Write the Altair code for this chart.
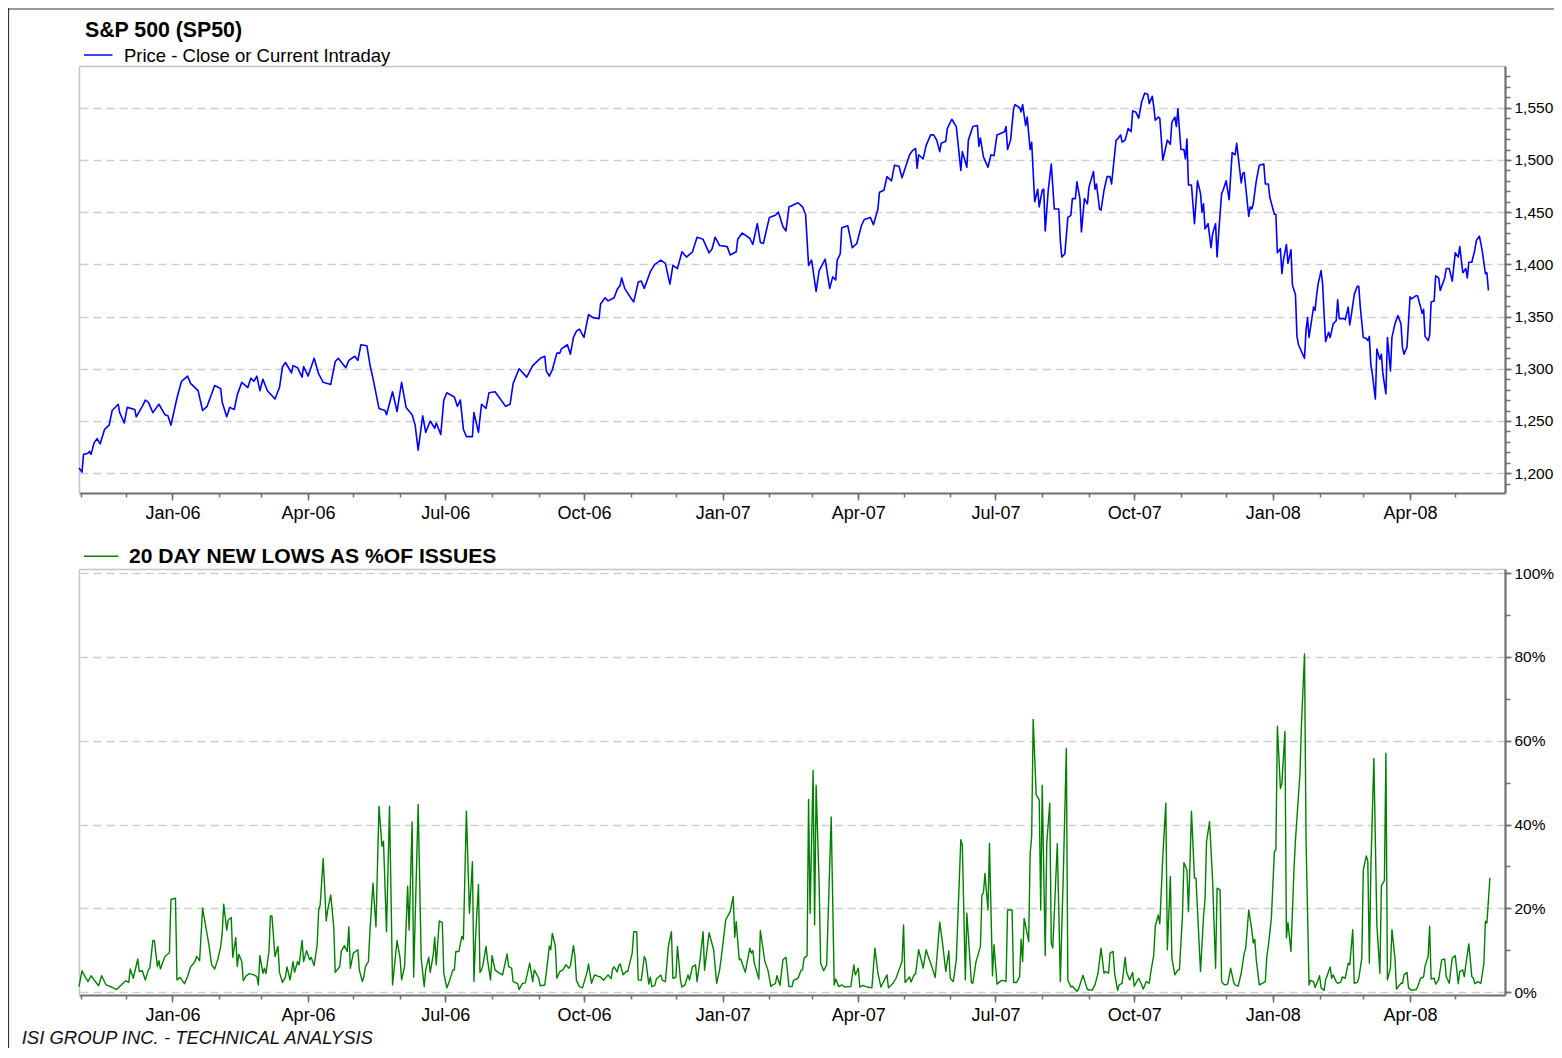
import altair as alt
import pandas as pd

FONT = "Liberation Sans"

# ---------------- data ----------------
price_dates = [
    "2005-10-31",
    "2005-11-02", "2005-11-03", "2005-11-06", "2005-11-07", "2005-11-08", "2005-11-10", "2005-11-12", "2005-11-14", "2005-11-17", "2005-11-20", "2005-11-22", "2005-11-26", "2005-11-27", "2005-11-30",
    "2005-12-02", "2005-12-07", "2005-12-08", "2005-12-12", "2005-12-14", "2005-12-16", "2005-12-19", "2005-12-23", "2005-12-27", "2005-12-29", "2005-12-31",
    "2006-01-04", "2006-01-07", "2006-01-11", "2006-01-13", "2006-01-18", "2006-01-21", "2006-01-24", "2006-01-29",
    "2006-02-02", "2006-02-03", "2006-02-06", "2006-02-08", "2006-02-11", "2006-02-13", "2006-02-16", "2006-02-20", "2006-02-22", "2006-02-24", "2006-02-26", "2006-02-28",
    "2006-03-02", "2006-03-05", "2006-03-10", "2006-03-13", "2006-03-15", "2006-03-17", "2006-03-21", "2006-03-22", "2006-03-25", "2006-03-28", "2006-03-29",
    "2006-04-01", "2006-04-05", "2006-04-08", "2006-04-11", "2006-04-16", "2006-04-19", "2006-04-21", "2006-04-26", "2006-04-28",
    "2006-05-02", "2006-05-04", "2006-05-06", "2006-05-10", "2006-05-12", "2006-05-14", "2006-05-18", "2006-05-22", "2006-05-23", "2006-05-27", "2006-05-30",
    "2006-06-02", "2006-06-05", "2006-06-09", "2006-06-11", "2006-06-13", "2006-06-16", "2006-06-18", "2006-06-21", "2006-06-24", "2006-06-25", "2006-06-28", "2006-06-30",
    "2006-07-02", "2006-07-07", "2006-07-09", "2006-07-11", "2006-07-13", "2006-07-15", "2006-07-19", "2006-07-20", "2006-07-23", "2006-07-25", "2006-07-28", "2006-07-30",
    "2006-08-03", "2006-08-07", "2006-08-10", "2006-08-13", "2006-08-15", "2006-08-19", "2006-08-24", "2006-08-28",
    "2006-09-02", "2006-09-05", "2006-09-06", "2006-09-08", "2006-09-10", "2006-09-13", "2006-09-15", "2006-09-16", "2006-09-20", "2006-09-22", "2006-09-24", "2006-09-26", "2006-09-28",
    "2006-10-01", "2006-10-04", "2006-10-07", "2006-10-11", "2006-10-12", "2006-10-15", "2006-10-17", "2006-10-21", "2006-10-23", "2006-10-25", "2006-10-26", "2006-10-28",
    "2006-11-01", "2006-11-03", "2006-11-06", "2006-11-08", "2006-11-10", "2006-11-14", "2006-11-17", "2006-11-21", "2006-11-24", "2006-11-27", "2006-11-29",
    "2006-12-02", "2006-12-05", "2006-12-08", "2006-12-12", "2006-12-15", "2006-12-19", "2006-12-23", "2006-12-25", "2006-12-27", "2006-12-30",
    "2007-01-04", "2007-01-06", "2007-01-10", "2007-01-11", "2007-01-14", "2007-01-19", "2007-01-21", "2007-01-24", "2007-01-26", "2007-01-28",
    "2007-02-01", "2007-02-05", "2007-02-07", "2007-02-10", "2007-02-12", "2007-02-14", "2007-02-20", "2007-02-23", "2007-02-25", "2007-02-27",
    "2007-03-01", "2007-03-04", "2007-03-06", "2007-03-10", "2007-03-13", "2007-03-15", "2007-03-17", "2007-03-18", "2007-03-20", "2007-03-21", "2007-03-25", "2007-03-28", "2007-03-31",
    "2007-04-03", "2007-04-05", "2007-04-09", "2007-04-11", "2007-04-14", "2007-04-15", "2007-04-18", "2007-04-20", "2007-04-23", "2007-04-25", "2007-04-28", "2007-04-30",
    "2007-05-05", "2007-05-07", "2007-05-09", "2007-05-10", "2007-05-11", "2007-05-14", "2007-05-16", "2007-05-19", "2007-05-21", "2007-05-23", "2007-05-25", "2007-05-26", "2007-05-29", "2007-05-30",
    "2007-06-02", "2007-06-05", "2007-06-08", "2007-06-09", "2007-06-12", "2007-06-13", "2007-06-16", "2007-06-19", "2007-06-20", "2007-06-21", "2007-06-23", "2007-06-26", "2007-06-28", "2007-06-30",
    "2007-07-02", "2007-07-07", "2007-07-08", "2007-07-09", "2007-07-11", "2007-07-13", "2007-07-14", "2007-07-17", "2007-07-18", "2007-07-19", "2007-07-21", "2007-07-22", "2007-07-24", "2007-07-25", "2007-07-27", "2007-07-29", "2007-07-30",
    "2007-08-01", "2007-08-02", "2007-08-03", "2007-08-05", "2007-08-07", "2007-08-09", "2007-08-12", "2007-08-13", "2007-08-14", "2007-08-16", "2007-08-18", "2007-08-20", "2007-08-21", "2007-08-23", "2007-08-24", "2007-08-26", "2007-08-27", "2007-08-29", "2007-08-31",
    "2007-09-01", "2007-09-04", "2007-09-05", "2007-09-06", "2007-09-08", "2007-09-09", "2007-09-11", "2007-09-13", "2007-09-15", "2007-09-16", "2007-09-19", "2007-09-20", "2007-09-22", "2007-09-23", "2007-09-25", "2007-09-27", "2007-09-29", "2007-09-30",
    "2007-10-02", "2007-10-04", "2007-10-06", "2007-10-08", "2007-10-10", "2007-10-11", "2007-10-13", "2007-10-14", "2007-10-15", "2007-10-17", "2007-10-18", "2007-10-20", "2007-10-21", "2007-10-23", "2007-10-25", "2007-10-26", "2007-10-28", "2007-10-29", "2007-10-30",
    "2007-11-01", "2007-11-03", "2007-11-04", "2007-11-05", "2007-11-06", "2007-11-08", "2007-11-10", "2007-11-12", "2007-11-14", "2007-11-15", "2007-11-16", "2007-11-17", "2007-11-19", "2007-11-21", "2007-11-22", "2007-11-24", "2007-11-25", "2007-11-26", "2007-11-28", "2007-11-29",
    "2007-12-01", "2007-12-03", "2007-12-05", "2007-12-07", "2007-12-08", "2007-12-11", "2007-12-12", "2007-12-13", "2007-12-16", "2007-12-17", "2007-12-18", "2007-12-19", "2007-12-21", "2007-12-23", "2007-12-26", "2007-12-27", "2007-12-29", "2007-12-30",
    "2008-01-02", "2008-01-03", "2008-01-04", "2008-01-05", "2008-01-06", "2008-01-07", "2008-01-08", "2008-01-10", "2008-01-11", "2008-01-13", "2008-01-14", "2008-01-16", "2008-01-17", "2008-01-18", "2008-01-22", "2008-01-23", "2008-01-24", "2008-01-25", "2008-01-28", "2008-01-29", "2008-01-30", "2008-01-31",
    "2008-02-02", "2008-02-03", "2008-02-04", "2008-02-05", "2008-02-07", "2008-02-08", "2008-02-09", "2008-02-10", "2008-02-12", "2008-02-13", "2008-02-14", "2008-02-17", "2008-02-18", "2008-02-20", "2008-02-21", "2008-02-22", "2008-02-24", "2008-02-26", "2008-02-27", "2008-02-28",
    "2008-03-01", "2008-03-03", "2008-03-04", "2008-03-05", "2008-03-06", "2008-03-07", "2008-03-09", "2008-03-10", "2008-03-11", "2008-03-12", "2008-03-13", "2008-03-14", "2008-03-16", "2008-03-17", "2008-03-19", "2008-03-20", "2008-03-22", "2008-03-24", "2008-03-26", "2008-03-27", "2008-03-28", "2008-03-30",
    "2008-04-01", "2008-04-02", "2008-04-05", "2008-04-06", "2008-04-08", "2008-04-09", "2008-04-10", "2008-04-11", "2008-04-13", "2008-04-14", "2008-04-15", "2008-04-17", "2008-04-18", "2008-04-20", "2008-04-21", "2008-04-24", "2008-04-25", "2008-04-27", "2008-04-29",
    "2008-05-01", "2008-05-03", "2008-05-04", "2008-05-06", "2008-05-08", "2008-05-09", "2008-05-10", "2008-05-12", "2008-05-14", "2008-05-15", "2008-05-17", "2008-05-18", "2008-05-19", "2008-05-21", "2008-05-22", "2008-05-23",
]
price_values = [
    1205,
    1201, 1218, 1219, 1221, 1218, 1229, 1233, 1228, 1242, 1246, 1260, 1266, 1258, 1248,
    1263, 1261, 1254, 1264, 1270, 1268, 1258, 1266, 1256, 1255, 1246,
    1272, 1288, 1293, 1286, 1279, 1260, 1264, 1284,
    1281, 1268, 1254, 1263, 1261, 1275, 1287, 1282, 1291, 1288, 1293, 1279,
    1290, 1279, 1271, 1282, 1302, 1306, 1296, 1303, 1301, 1292, 1302,
    1293, 1310, 1295, 1287, 1285, 1307, 1310, 1301, 1308,
    1312, 1308, 1323, 1322, 1304, 1291, 1262, 1260, 1256, 1278, 1259,
    1287, 1263, 1256, 1246, 1222, 1255, 1239, 1250, 1243, 1248, 1237, 1270,
    1277, 1273, 1264, 1270, 1242, 1235, 1235, 1258, 1239, 1266, 1262, 1277,
    1278, 1270, 1264, 1266, 1286, 1300, 1292, 1303,
    1310, 1312, 1298, 1293, 1299, 1315, 1315, 1319, 1323, 1314, 1330, 1336, 1338,
    1330, 1352, 1349, 1348, 1362, 1368, 1365, 1368, 1376, 1380, 1387, 1377,
    1368, 1364, 1383, 1384, 1377, 1393, 1400, 1404, 1401, 1381, 1399,
    1396, 1412, 1407, 1412, 1426, 1424, 1411, 1415, 1426, 1418,
    1417, 1409, 1412, 1424, 1430, 1425, 1419, 1439, 1421, 1420,
    1445, 1447, 1450, 1436, 1432, 1455, 1459, 1455, 1448, 1399,
    1404, 1374, 1394, 1405, 1377, 1388, 1385, 1404, 1410, 1435, 1437, 1416, 1420,
    1437, 1443, 1445, 1438, 1453, 1469, 1471, 1484, 1480, 1495, 1494, 1483,
    1505, 1509, 1511, 1492, 1505, 1501, 1514, 1524, 1524, 1519, 1508, 1516, 1518, 1530,
    1539, 1532, 1490, 1508, 1493, 1519, 1532, 1533, 1513, 1521, 1503, 1493, 1505, 1504,
    1524, 1527, 1532, 1510, 1519, 1549, 1553, 1550, 1546, 1553, 1533, 1541, 1510, 1517, 1460, 1472, 1455,
    1471, 1472, 1432, 1471, 1496, 1453, 1453, 1423, 1407, 1410, 1445, 1447, 1463, 1463, 1479, 1463, 1431, 1463, 1458,
    1474, 1489, 1472, 1477, 1453, 1452, 1471, 1484, 1484, 1477, 1519, 1520, 1524, 1517, 1519, 1530, 1527, 1547,
    1546, 1540, 1556, 1564, 1563, 1554, 1561, 1551, 1538, 1541, 1540, 1500, 1506, 1519, 1515, 1536, 1541, 1532, 1549,
    1510, 1510, 1501, 1520, 1476, 1476, 1439, 1480, 1468, 1450, 1458, 1434, 1439, 1416, 1429, 1439, 1407, 1429, 1468, 1471,
    1480, 1462, 1507, 1505, 1516, 1478, 1487, 1488, 1446, 1455, 1453, 1458, 1480, 1495, 1496, 1477, 1477, 1464,
    1448, 1448, 1411, 1413, 1415, 1391, 1404, 1419, 1401, 1414, 1380, 1371, 1331, 1323, 1310, 1337, 1349, 1330, 1359, 1356, 1370, 1381,
    1394, 1381, 1352, 1326, 1335, 1330, 1336, 1343, 1346, 1366, 1348, 1348, 1347, 1359, 1342, 1351, 1371, 1379, 1379, 1359,
    1330, 1329, 1327, 1331, 1304, 1295, 1271, 1319, 1314, 1309, 1314, 1295, 1276, 1330, 1298, 1330, 1343, 1351, 1343, 1320, 1314, 1321,
    1369, 1367, 1370, 1370, 1359, 1353, 1357, 1331, 1327, 1332, 1364, 1365, 1389, 1387, 1375, 1387, 1396, 1396, 1384,
    1411, 1407, 1417, 1392, 1396, 1387, 1402, 1402, 1414, 1423, 1427, 1420, 1412, 1391, 1392, 1375,
]

low_dates = [
    "2005-10-31",
    "2005-11-02", "2005-11-04", "2005-11-06", "2005-11-08", "2005-11-10", "2005-11-13", "2005-11-15", "2005-11-18", "2005-11-21", "2005-11-25", "2005-11-28",
    "2005-12-01", "2005-12-03", "2005-12-04", "2005-12-06", "2005-12-09", "2005-12-10", "2005-12-12", "2005-12-14", "2005-12-16", "2005-12-17", "2005-12-19", "2005-12-20", "2005-12-22", "2005-12-23", "2005-12-24", "2005-12-27", "2005-12-29", "2005-12-30", "2005-12-31",
    "2006-01-03", "2006-01-04", "2006-01-06", "2006-01-09", "2006-01-11", "2006-01-13", "2006-01-16", "2006-01-17", "2006-01-19", "2006-01-21", "2006-01-25", "2006-01-27", "2006-01-29", "2006-01-31",
    "2006-02-02", "2006-02-03", "2006-02-04", "2006-02-06", "2006-02-07", "2006-02-09", "2006-02-10", "2006-02-12", "2006-02-13", "2006-02-14", "2006-02-16", "2006-02-17", "2006-02-19", "2006-02-21", "2006-02-24", "2006-02-26", "2006-02-27", "2006-02-28",
    "2006-03-02", "2006-03-03", "2006-03-04", "2006-03-06", "2006-03-07", "2006-03-08", "2006-03-10", "2006-03-12", "2006-03-13", "2006-03-15", "2006-03-17", "2006-03-18", "2006-03-20", "2006-03-22", "2006-03-23", "2006-03-25", "2006-03-26", "2006-03-28", "2006-03-29", "2006-03-31",
    "2006-04-02", "2006-04-03", "2006-04-05", "2006-04-07", "2006-04-08", "2006-04-09", "2006-04-11", "2006-04-13", "2006-04-14", "2006-04-16", "2006-04-18", "2006-04-19", "2006-04-22", "2006-04-23", "2006-04-25", "2006-04-27", "2006-04-28", "2006-04-29",
    "2006-05-01", "2006-05-04", "2006-05-05", "2006-05-07", "2006-05-08", "2006-05-09", "2006-05-11", "2006-05-12", "2006-05-14", "2006-05-16", "2006-05-18", "2006-05-20", "2006-05-21", "2006-05-23", "2006-05-25", "2006-05-27", "2006-05-30",
    "2006-06-01", "2006-06-02", "2006-06-04", "2006-06-06", "2006-06-07", "2006-06-09", "2006-06-10", "2006-06-13", "2006-06-15", "2006-06-17", "2006-06-18", "2006-06-20", "2006-06-21", "2006-06-23", "2006-06-24", "2006-06-25", "2006-06-27", "2006-06-29", "2006-06-30",
    "2006-07-02", "2006-07-04", "2006-07-06", "2006-07-07", "2006-07-08", "2006-07-10", "2006-07-12", "2006-07-13", "2006-07-15", "2006-07-17", "2006-07-19", "2006-07-20", "2006-07-21", "2006-07-23", "2006-07-24", "2006-07-25", "2006-07-26", "2006-07-28", "2006-07-29", "2006-07-31",
    "2006-08-01", "2006-08-03", "2006-08-05", "2006-08-08", "2006-08-11", "2006-08-12", "2006-08-14", "2006-08-15", "2006-08-18", "2006-08-19", "2006-08-21", "2006-08-23", "2006-08-24", "2006-08-26", "2006-08-28", "2006-08-29",
    "2006-09-01", "2006-09-02", "2006-09-05", "2006-09-07", "2006-09-08", "2006-09-09", "2006-09-10", "2006-09-12", "2006-09-13", "2006-09-15", "2006-09-17", "2006-09-19", "2006-09-21", "2006-09-22", "2006-09-24", "2006-09-25", "2006-09-26", "2006-09-28", "2006-09-30",
    "2006-10-03", "2006-10-04", "2006-10-06", "2006-10-08", "2006-10-10", "2006-10-12", "2006-10-14", "2006-10-17", "2006-10-19", "2006-10-20", "2006-10-21", "2006-10-23", "2006-10-24", "2006-10-25", "2006-10-27", "2006-10-29", "2006-10-30",
    "2006-11-02", "2006-11-03", "2006-11-05", "2006-11-06", "2006-11-08", "2006-11-10", "2006-11-11", "2006-11-13", "2006-11-14", "2006-11-15", "2006-11-17", "2006-11-18", "2006-11-21", "2006-11-22", "2006-11-24", "2006-11-26", "2006-11-28", "2006-11-29",
    "2006-12-01", "2006-12-02", "2006-12-04", "2006-12-05", "2006-12-07", "2006-12-09", "2006-12-10", "2006-12-12", "2006-12-14", "2006-12-15", "2006-12-17", "2006-12-19", "2006-12-20", "2006-12-23", "2006-12-26", "2006-12-28", "2006-12-30",
    "2007-01-01", "2007-01-03", "2007-01-06", "2007-01-08", "2007-01-09", "2007-01-10", "2007-01-12", "2007-01-13", "2007-01-16", "2007-01-19", "2007-01-20", "2007-01-21", "2007-01-22", "2007-01-25", "2007-01-26", "2007-01-29", "2007-01-31",
    "2007-02-02", "2007-02-03", "2007-02-05", "2007-02-06", "2007-02-08", "2007-02-10", "2007-02-12", "2007-02-14", "2007-02-16", "2007-02-17", "2007-02-20", "2007-02-22", "2007-02-23", "2007-02-24", "2007-02-26", "2007-02-27", "2007-02-28",
    "2007-03-02", "2007-03-03", "2007-03-04", "2007-03-06", "2007-03-07", "2007-03-09", "2007-03-11", "2007-03-14", "2007-03-16", "2007-03-17", "2007-03-19", "2007-03-21", "2007-03-23", "2007-03-25", "2007-03-27", "2007-03-29", "2007-03-30",
    "2007-04-01", "2007-04-02", "2007-04-04", "2007-04-07", "2007-04-10", "2007-04-12", "2007-04-14", "2007-04-16", "2007-04-20", "2007-04-21", "2007-04-24", "2007-04-26", "2007-04-30",
    "2007-05-01", "2007-05-02", "2007-05-05", "2007-05-06", "2007-05-08", "2007-05-09", "2007-05-11", "2007-05-13", "2007-05-14", "2007-05-16", "2007-05-17", "2007-05-19", "2007-05-22", "2007-05-23", "2007-05-25", "2007-05-27", "2007-05-29", "2007-05-31",
    "2007-06-01", "2007-06-03", "2007-06-05", "2007-06-08", "2007-06-09", "2007-06-11", "2007-06-12", "2007-06-15", "2007-06-16", "2007-06-18", "2007-06-21", "2007-06-22", "2007-06-23", "2007-06-24", "2007-06-26", "2007-06-27", "2007-06-29", "2007-06-30",
    "2007-07-02", "2007-07-05", "2007-07-07", "2007-07-08", "2007-07-09", "2007-07-12", "2007-07-13", "2007-07-15", "2007-07-17", "2007-07-18", "2007-07-19", "2007-07-20", "2007-07-23", "2007-07-24", "2007-07-25", "2007-07-26", "2007-07-28", "2007-07-30", "2007-07-31",
    "2007-08-01", "2007-08-03", "2007-08-04", "2007-08-06", "2007-08-07", "2007-08-08", "2007-08-11", "2007-08-13", "2007-08-15", "2007-08-17", "2007-08-18", "2007-08-20", "2007-08-21", "2007-08-24", "2007-08-25", "2007-08-28", "2007-08-30", "2007-08-31",
    "2007-09-03", "2007-09-05", "2007-09-07", "2007-09-09", "2007-09-11", "2007-09-12", "2007-09-14", "2007-09-15", "2007-09-17", "2007-09-18", "2007-09-20", "2007-09-21", "2007-09-23", "2007-09-25", "2007-09-26", "2007-09-28", "2007-09-30",
    "2007-10-01", "2007-10-04", "2007-10-06", "2007-10-07", "2007-10-09", "2007-10-11", "2007-10-12", "2007-10-14", "2007-10-15", "2007-10-17", "2007-10-18", "2007-10-20", "2007-10-22", "2007-10-23", "2007-10-25", "2007-10-26", "2007-10-28", "2007-10-30", "2007-10-31",
    "2007-11-02", "2007-11-03", "2007-11-05", "2007-11-06", "2007-11-07", "2007-11-08", "2007-11-10", "2007-11-11", "2007-11-12", "2007-11-14", "2007-11-16", "2007-11-17", "2007-11-18", "2007-11-20", "2007-11-22", "2007-11-24", "2007-11-25", "2007-11-27", "2007-11-28", "2007-11-30",
    "2007-12-02", "2007-12-04", "2007-12-06", "2007-12-07", "2007-12-09", "2007-12-11", "2007-12-13", "2007-12-14", "2007-12-16", "2007-12-18", "2007-12-19", "2007-12-20", "2007-12-21", "2007-12-23", "2007-12-25", "2007-12-27", "2007-12-28", "2007-12-29", "2007-12-31",
    "2008-01-02", "2008-01-03", "2008-01-04", "2008-01-06", "2008-01-07", "2008-01-09", "2008-01-10", "2008-01-11", "2008-01-13", "2008-01-15", "2008-01-16", "2008-01-19", "2008-01-20", "2008-01-22", "2008-01-23", "2008-01-25", "2008-01-26", "2008-01-28", "2008-01-29", "2008-01-31",
    "2008-02-01", "2008-02-02", "2008-02-04", "2008-02-05", "2008-02-08", "2008-02-09", "2008-02-10", "2008-02-12", "2008-02-13", "2008-02-15", "2008-02-16", "2008-02-18", "2008-02-20", "2008-02-21", "2008-02-23", "2008-02-24", "2008-02-26", "2008-02-27", "2008-02-29",
    "2008-03-01", "2008-03-03", "2008-03-04", "2008-03-05", "2008-03-06", "2008-03-08", "2008-03-10", "2008-03-12", "2008-03-13", "2008-03-15", "2008-03-16", "2008-03-17", "2008-03-19", "2008-03-20", "2008-03-22", "2008-03-23", "2008-03-26", "2008-03-27", "2008-03-28", "2008-03-30", "2008-03-31",
    "2008-04-02", "2008-04-05", "2008-04-06", "2008-04-08", "2008-04-10", "2008-04-11", "2008-04-13", "2008-04-14", "2008-04-15", "2008-04-17", "2008-04-18", "2008-04-20", "2008-04-22", "2008-04-24", "2008-04-25", "2008-04-27", "2008-04-29",
    "2008-05-01", "2008-05-03", "2008-05-04", "2008-05-06", "2008-05-07", "2008-05-08", "2008-05-10", "2008-05-12", "2008-05-13", "2008-05-14", "2008-05-16", "2008-05-18", "2008-05-20", "2008-05-21", "2008-05-22", "2008-05-24",
]
low_values = [
    1.3,
    5.1, 3.7, 2.5, 3.9, 2.9, 1.5, 3.9, 1.7, 1.3, 0.6, 1.7,
    2.7, 2.3, 5.5, 3.3, 7.9, 4.9, 5.1, 2.9, 5.3, 5.7, 12.3, 12.3, 6.1, 7.5, 5.5, 8.5, 9.1, 9.4, 22.1,
    22.4, 2.9, 3.5, 2.0, 3.7, 6.0, 7.3, 8.5, 7.5, 20.0, 11.7, 6.5, 5.5, 7.7,
    10.9, 14.0, 21.0, 14.8, 17.2, 17.8, 8.3, 13.0, 6.1, 9.0, 7.3, 2.7, 3.9, 4.4, 4.1, 3.7, 1.7, 8.7,
    4.5, 5.7, 4.4, 9.7, 18.2, 18.2, 8.5, 10.9, 4.7, 2.3, 3.7, 6.0, 2.9, 7.3, 4.7, 7.3, 6.5, 12.3, 7.3, 9.9,
    7.7, 8.3, 6.3, 11.3, 19.6, 20.8, 31.9, 17.0, 19.6, 23.2, 15.6, 4.7, 6.1, 9.7, 11.1, 9.7, 15.6, 5.7,
    9.3, 10.1, 5.2, 2.5, 3.7, 6.1, 7.3, 14.4, 26.0, 15.6, 44.4, 34.8, 36.0, 14.4, 44.4, 1.7, 12.3,
    8.1, 2.9, 6.1, 25.3, 14.8, 40.6, 3.6, 44.8, 8.1, 1.3, 5.3, 8.3, 4.7, 8.9, 13.1, 6.5, 17.0, 16.6, 4.5,
    1.0, 2.9, 5.3, 5.3, 9.7, 9.7, 13.3, 12.6, 43.2, 18.8, 31.1, 2.5, 12.5, 25.7, 4.7, 5.3, 6.5, 10.9, 7.7, 2.9,
    8.7, 5.3, 4.7, 4.1, 9.1, 6.1, 5.7, 2.5, 2.0, 0.6, 2.0, 2.2, 3.7, 6.9, 2.5, 5.3,
    3.3, 1.5, 1.7, 7.7, 11.0, 10.1, 14.0, 11.0, 3.3, 4.9, 5.3, 6.5, 5.7, 6.2, 11.1, 8.5, 2.8, 1.3, 1.0,
    4.7, 6.7, 2.1, 4.1, 3.8, 3.6, 2.8, 4.1, 3.2, 5.5, 6.0, 4.8, 6.3, 6.7, 4.1, 4.9, 4.9,
    9.3, 14.4, 14.4, 2.9, 2.8, 8.5, 7.7, 1.9, 3.6, 1.3, 1.6, 3.1, 4.1, 2.8, 2.5, 10.9, 14.4, 3.3,
    3.6, 10.9, 2.9, 1.2, 1.7, 4.1, 2.9, 6.1, 6.5, 2.5, 7.7, 14.4, 5.2, 14.2, 10.1, 2.1, 5.3,
    10.9, 17.2, 19.2, 22.8, 13.1, 16.8, 7.7, 7.9, 4.7, 10.5, 9.3, 9.9, 6.9, 3.1, 14.7, 7.3, 5.3,
    1.3, 1.7, 2.0, 3.9, 1.6, 7.7, 8.3, 1.3, 1.3, 2.8, 3.3, 5.2, 5.3, 8.1, 8.7, 46.0, 18.8,
    52.9, 16.0, 49.4, 26.0, 6.9, 5.1, 6.5, 41.8, 1.7, 3.1, 1.3, 1.7, 1.2, 1.3, 1.3, 6.5, 4.1,
    5.7, 1.2, 1.6, 1.2, 1.0, 10.5, 4.5, 1.2, 4.1, 1.0, 2.1, 3.3, 7.3,
    16.0, 2.3, 3.6, 2.4, 4.1, 4.4, 10.1, 7.3, 5.7, 10.1, 8.9, 6.9, 3.5, 7.7, 16.7, 11.3, 4.9, 9.8,
    3.3, 2.5, 7.7, 36.4, 35.1, 2.9, 18.8, 2.3, 2.1, 7.1, 10.9, 23.2, 23.7, 28.3, 19.6, 35.5, 3.9, 11.3,
    1.9, 2.8, 2.7, 2.5, 19.6, 19.6, 2.3, 2.3, 3.7, 12.6, 7.3, 17.6, 12.1, 33.1, 37.2, 65.1, 47.1, 45.9, 19.6,
    49.4, 8.7, 35.5, 45.1, 11.7, 10.5, 35.4, 2.5, 28.4, 58.2, 2.9, 1.2, 1.4, 0.2, 0.6, 4.0, 1.7, 0.6,
    0.4, 1.7, 4.5, 10.5, 4.5, 4.9, 4.5, 9.3, 9.7, 4.5, 0.4, 1.7, 2.1, 8.3, 4.7, 2.9, 4.7,
    1.4, 3.3, 1.7, 0.7, 2.5, 2.1, 4.7, 8.9, 15.7, 18.4, 16.3, 32.4, 45.1, 10.1, 27.6, 8.1, 4.1, 5.3, 5.3,
    18.0, 30.9, 29.2, 19.2, 30.4, 43.2, 27.2, 27.2, 19.6, 4.9, 18.0, 22.0, 35.9, 40.7, 26.8, 5.7, 24.8, 24.4, 2.5, 1.7,
    1.9, 5.7, 2.3, 1.7, 1.4, 4.5, 9.3, 10.5, 19.6, 14.9, 11.7, 12.6, 7.7, 1.7, 2.1, 2.5, 8.5, 10.9, 17.6,
    33.5, 33.9, 63.5, 48.6, 49.8, 62.2, 12.9, 16.6, 9.7, 29.2, 36.3, 52.2, 64.1, 80.7, 36.7, 1.7, 2.8, 2.5, 1.1, 2.9,
    3.9, 1.0, 0.4, 2.9, 6.0, 3.3, 4.1, 2.5, 2.1, 2.3, 3.6, 3.3, 6.9, 6.5, 14.9, 2.1, 2.3, 3.3, 8.1,
    29.2, 32.5, 31.2, 6.9, 29.2, 55.8, 16.1, 4.5, 25.4, 26.6, 57.0, 2.9, 5.7, 14.9, 8.1, 0.7, 2.1, 2.1, 4.1, 4.7, 1.0,
    0.4, 0.6, 1.2, 3.3, 3.6, 6.3, 8.5, 15.7, 3.1, 3.3, 1.9, 2.9, 7.7, 7.9, 3.7, 2.1, 8.1,
    8.7, 2.0, 4.9, 5.3, 3.7, 6.5, 11.5, 3.7, 3.3, 2.0, 2.5, 2.1, 6.9, 16.9, 16.5, 27.3,
]

assert len(price_dates) == len(price_values), (len(price_dates), len(price_values))
assert len(low_dates) == len(low_values), (len(low_dates), len(low_values))

# axis tick values
quarter_ticks = [(2006, 1), (2006, 4), (2006, 7), (2006, 10), (2007, 1), (2007, 4),
                 (2007, 7), (2007, 10), (2008, 1), (2008, 4)]
month_ticks = [(2005, 11), (2005, 12)] + [(y, m) for y in (2006, 2007) for m in range(1, 13)] + \
              [(2008, m) for m in range(1, 6)]
price_major = [1200, 1250, 1300, 1350, 1400, 1450, 1500, 1550]
price_minor = list(range(1190, 1590, 10))
pct_major = [0, 20, 40, 60, 80, 100]
pct_minor = list(range(0, 101, 10))

title_text = "S&P 500 (SP50)"
price_label = "Price - Close or Current Intraday"
lows_label = "20 DAY NEW LOWS AS %OF ISSUES"
footer_text = "ISI GROUP INC. - TECHNICAL ANALYSIS"

price_df = pd.DataFrame({"date": price_dates, "price": price_values})
lows_df = pd.DataFrame({"date": low_dates, "pct": low_values})

# ---------------- layout constants ----------------
W, H = 1426, 929
TOP_PANEL_BOTTOM = 427     # y of the upper panel's x axis inside the view
LOW_PANEL_TOP = 503        # y of the lower panel's top border inside the view
PAD = {"left": 71, "top": 58, "right": 49, "bottom": 53}   # svg = 1546 x 1040

AXIS_DARK = "#6f6f6f"
FRAME = "#c4c4c4"
GRID = "#cdcdcd"


def dt(y, m, d=1):
    return alt.DateTime(year=y, month=m, date=d, utc=True)


def xscale():
    return alt.Scale(type="utc", domain=[dt(2005, 10, 31), dt(2008, 6, 3)], nice=False)


def price_scale():
    return alt.Scale(domain=[1181, 1590], rangeMin=TOP_PANEL_BOTTOM, rangeMax=0, nice=False, zero=False)


def pct_scale():
    return alt.Scale(domain=[-0.7, 101], rangeMin=H, rangeMax=LOW_PANEL_TOP, nice=False, zero=False)


def label_x_axis(offset):
    return alt.Axis(orient="bottom", offset=offset, values=[dt(y, m) for y, m in quarter_ticks],
                    labelExpr="utcFormat(datum.value, '%b-%y')", tickSize=7, tickWidth=1.5,
                    tickColor=AXIS_DARK, domainColor=AXIS_DARK, domainWidth=2.2,
                    labelFont=FONT, labelFontSize=18, labelColor="#000000", labelPadding=18,
                    labelBaseline="alphabetic", labelFlush=False, labelOverlap=False,
                    grid=False, title=None)


def minor_x_axis(offset):
    return alt.Axis(orient="bottom", offset=offset, values=[dt(y, m) for y, m in month_ticks],
                    tickSize=4, tickWidth=1.5, tickColor=AXIS_DARK, labels=False, domain=False,
                    grid=False, title=None)


def frame_x_axis(offset):
    return alt.Axis(orient="top", offset=offset, ticks=False, labels=False, domainColor=FRAME,
                    domainWidth=1.5, grid=False, title=None)


def frame_y_axis():
    return alt.Axis(orient="left", ticks=False, labels=False, domainColor=FRAME,
                    domainWidth=1.5, grid=False, title=None)


def major_y_axis(values, **kw):
    return alt.Axis(orient="right", values=values, tickSize=6, tickWidth=1.5, tickColor=AXIS_DARK,
                    domainColor=AXIS_DARK, domainWidth=2.2, labelFont=FONT, labelFontSize=15.5,
                    labelColor="#000000", labelPadding=3, labelOverlap=False, grid=True,
                    gridColor=GRID, gridDash=[8, 5], gridWidth=1.5, title=None, **kw)


def minor_y_axis(values):
    return alt.Axis(orient="right", values=values, tickSize=5, tickWidth=1.5, tickColor=AXIS_DARK,
                    labels=False, domain=False, grid=False, title=None)


# ---------------- data layers ----------------
price_frame = alt.Chart(price_df).mark_line(strokeOpacity=0).encode(
    x=alt.X("date:T", scale=xscale(), axis=frame_x_axis(0)),
    y=alt.Y("price:Q", scale=price_scale(), axis=frame_y_axis()),
)
lows_frame = alt.Chart(lows_df).mark_line(strokeOpacity=0).encode(
    x=alt.X("date:T", scale=xscale(), axis=frame_x_axis(-LOW_PANEL_TOP)),
    y=alt.Y("pct:Q", scale=pct_scale(), axis=frame_y_axis()),
)
price_minor_layer = alt.Chart(price_df).mark_line(strokeOpacity=0).encode(
    x=alt.X("date:T", scale=xscale(), axis=minor_x_axis(TOP_PANEL_BOTTOM - H)),
    y=alt.Y("price:Q", scale=price_scale(), axis=minor_y_axis(price_minor)),
)
lows_minor_layer = alt.Chart(lows_df).mark_line(strokeOpacity=0).encode(
    x=alt.X("date:T", scale=xscale(), axis=minor_x_axis(0)),
    y=alt.Y("pct:Q", scale=pct_scale(), axis=minor_y_axis(pct_minor)),
)
price_line = alt.Chart(price_df).mark_line(color="#0000ff", strokeWidth=1.6, strokeJoin="round").encode(
    x=alt.X("date:T", scale=xscale(), axis=label_x_axis(TOP_PANEL_BOTTOM - H)),
    y=alt.Y("price:Q", scale=price_scale(), axis=major_y_axis(price_major, format=",d")),
)
lows_line = alt.Chart(lows_df).mark_line(color="#008000", strokeWidth=1.4, strokeJoin="round").encode(
    x=alt.X("date:T", scale=xscale(), axis=label_x_axis(0)),
    y=alt.Y("pct:Q", scale=pct_scale(), axis=major_y_axis(pct_major, labelExpr="datum.value + '%'")),
)


# ---------------- annotations (titles, legend keys, footer) ----------------
def text_layer(txt, x, y, size, weight="normal", style="normal", color="#000000"):
    return alt.Chart(alt.Data(values=[{"label": txt}])).mark_text(
        align="left", baseline="alphabetic", font=FONT, fontSize=size, fontWeight=weight,
        fontStyle=style, color=color,
    ).encode(x=alt.value(x), y=alt.value(y), text="label:N")


def rule_layer(x1, x2, y1, y2, color, width):
    return alt.Chart(alt.Data(values=[{"k": 0}])).mark_rule(color=color, strokeWidth=width).encode(
        x=alt.value(x1), x2=alt.value(x2), y=alt.value(y1), y2=alt.value(y2)
    )


border_top = rule_layer(-71, 1475, -57, -57, "#333333", 1.2)
border_left = rule_layer(-70.5, -70.5, -58, 984, "#333333", 1.2)

title_layer = text_layer(title_text, 6, -28.7, 21.3, weight="bold")
price_key = rule_layer(5, 33.5, -11, -11, "#0000ff", 1.5)
price_key_text = text_layer(price_label, 45, -4.3, 18.5)
lows_key = rule_layer(5, 39.5, 490.3, 490.3, "#008000", 1.5)
lows_key_text = text_layer(lows_label, 50, 497.3, 21.1, weight="bold")
footer = text_layer(footer_text, -57.3, 977.5, 18.5, style="italic", color="#111111")

chart = alt.layer(
    border_top, border_left,
    price_frame, lows_frame,
    price_minor_layer, lows_minor_layer,
    price_line, lows_line,
    title_layer, price_key, price_key_text, lows_key, lows_key_text, footer,
).resolve_scale(
    x="independent", y="independent"
).resolve_axis(
    x="independent", y="independent"
).properties(
    width=W, height=H,
    autosize=alt.AutoSizeParams(type="none"),
    padding=PAD,
    background="white",
).configure_view(stroke=None)

chart.save("out.html", embed_options={"renderer": "svg", "actions": False})
